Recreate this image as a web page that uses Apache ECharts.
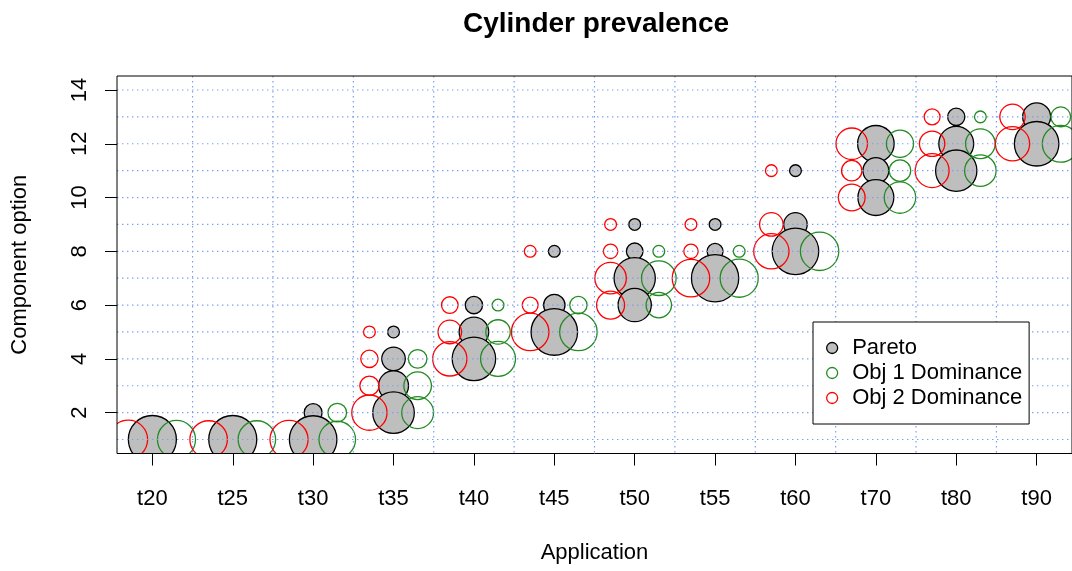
<!DOCTYPE html>
<html>
<head>
<meta charset="utf-8">
<script src="https://cdn.jsdelivr.net/npm/echarts@6/dist/echarts.min.js"></script>
<style>
  html, body { margin: 0; padding: 0; background: #fff; }
  #chart { width: 1072px; height: 571px; }
</style>
</head>
<body>
<div id="chart"></div>
<script>
// Applications on the x axis, component options on the y axis
const applications = ['t20', 't25', 't30', 't35', 't40', 't45', 't50', 't55', 't60', 't70', 't80', 't90'];
const optionTicks = [2, 4, 6, 8, 10, 12, 14];
const appTicks = [1, 2, 3, 4, 5, 6, 7, 8, 9, 10, 11, 12];

// Dotted reference grid
const gridLinesX = [1.5, 2.5, 3.5, 4.5, 5.5, 6.5, 7.5, 8.5, 9.5, 10.5, 11.5];
const gridLinesY = [1, 2, 3, 4, 5, 6, 7, 8, 9, 10, 11, 12, 13, 14];

// [application, component option, prevalence %]
const paretoShare = [
  ['t20', 1, 100],
  ['t25', 1, 100],
  ['t30', 2, 14], ['t30', 1, 98],
  ['t35', 5, 6], ['t35', 4, 24], ['t35', 3, 39], ['t35', 2, 75],
  ['t40', 6, 13], ['t40', 5, 38], ['t40', 4, 82],
  ['t45', 8, 6], ['t45', 6, 20], ['t45', 5, 94],
  ['t50', 9, 6], ['t50', 8, 12], ['t50', 7, 74], ['t50', 6, 48],
  ['t55', 9, 6], ['t55', 8, 11], ['t55', 7, 97],
  ['t60', 11, 6], ['t60', 9, 24], ['t60', 8, 94],
  ['t70', 12, 58], ['t70', 11, 29], ['t70', 10, 56],
  ['t80', 13, 13], ['t80', 12, 53], ['t80', 11, 74],
  ['t90', 13, 34], ['t90', 12, 86]
];

const obj1Share = [
  ['t20', 1, 63],
  ['t25', 1, 61],
  ['t30', 2, 15], ['t30', 1, 58],
  ['t35', 4, 15], ['t35', 3, 33], ['t35', 2, 44],
  ['t40', 6, 6], ['t40', 5, 26], ['t40', 4, 53],
  ['t45', 6, 13], ['t45', 5, 61],
  ['t50', 8, 6], ['t50', 7, 52], ['t50', 6, 28],
  ['t55', 8, 6], ['t55', 7, 63],
  ['t60', 8, 64],
  ['t70', 12, 32], ['t70', 11, 20], ['t70', 10, 43],
  ['t80', 13, 6], ['t80', 12, 38], ['t80', 11, 43],
  ['t90', 13, 17], ['t90', 12, 59]
];

const obj2Share = [
  ['t20', 1, 65],
  ['t25', 1, 61],
  ['t30', 1, 63],
  ['t35', 5, 6], ['t35', 4, 13], ['t35', 3, 16], ['t35', 2, 54],
  ['t40', 6, 12], ['t40', 5, 24], ['t40', 4, 51],
  ['t45', 8, 6], ['t45', 6, 11], ['t45', 5, 61],
  ['t50', 9, 6], ['t50', 8, 9], ['t50', 7, 43], ['t50', 6, 34],
  ['t55', 9, 6], ['t55', 8, 9], ['t55', 7, 61],
  ['t60', 11, 6], ['t60', 9, 24], ['t60', 8, 54],
  ['t70', 12, 43], ['t70', 11, 18], ['t70', 10, 31],
  ['t80', 13, 11], ['t80', 12, 28], ['t80', 11, 50],
  ['t90', 13, 28], ['t90', 12, 51]
];

const FONT = '"Liberation Sans", Arial, Helvetica, sans-serif';
const R_MAX = 24;           // radius (px) of a 100 % circle
const LINE_W = 1.3;

function toRows(list) {
  return list.map(d => [applications.indexOf(d[0]) + 1, d[1], d[2]]);
}

function bubbleSeries(name, list, dx, fill, stroke) {
  return {
    type: 'custom',
    name: name,
    clip: true,
    z: 2,
    itemStyle: { color: fill === 'none' ? stroke : fill, borderColor: stroke },
    data: toRows(list),
    renderItem: function (params, api) {
      const c = api.coord([api.value(0) + dx, api.value(1)]);
      const r = R_MAX * Math.sqrt(api.value(2) / 100);
      return {
        type: 'circle',
        shape: { cx: c[0], cy: c[1], r: r },
        style: { fill: fill, stroke: stroke, lineWidth: LINE_W }
      };
    }
  };
}

const gridRows = gridLinesX.map(v => [0, v]).concat(gridLinesY.map(v => [1, v]));

const chart = echarts.init(document.getElementById('chart'), null, { renderer: 'canvas' });

chart.setOption({
  animation: false,
  backgroundColor: '#ffffff',
  textStyle: { fontFamily: FONT },
  title: {
    text: 'Cylinder prevalence',
    left: 591,
    textAlign: 'center',
    top: 5,
    textStyle: { fontFamily: FONT, fontSize: 28, fontWeight: 'bold', color: '#000' }
  },
  grid: {
    left: 117, top: 76, right: -3.5, bottom: 117.5,
    show: true, borderColor: '#000', borderWidth: 1, backgroundColor: 'transparent',
    z: 5
  },
  legend: {
    orient: 'vertical',
    left: 813, top: 322,
    z: 10,
    selectedMode: false,
    icon: 'circle',
    itemWidth: 30, itemHeight: 11, itemGap: 3,
    padding: [15, 7, 15, 13],
    backgroundColor: '#fff', borderColor: '#000', borderWidth: 1,
    textStyle: { fontFamily: FONT, fontSize: 22, lineHeight: 22, color: '#000' },
    data: [
      { name: 'Pareto', itemStyle: { color: '#bebebe', borderColor: '#000', borderWidth: LINE_W } },
      { name: 'Obj 1 Dominance', itemStyle: { color: '#fff', borderColor: '#228b22', borderWidth: LINE_W } },
      { name: 'Obj 2 Dominance', itemStyle: { color: '#fff', borderColor: '#ff0000', borderWidth: LINE_W } }
    ]
  },
  xAxis: {
    type: 'value', min: 0.56, max: 12.44,
    name: 'Application', nameLocation: 'middle', nameGap: 88,
    nameTextStyle: { fontFamily: FONT, fontSize: 22, color: '#000' },
    axisLine: { show: false },
    splitLine: { show: false },
    axisTick: { show: true, customValues: appTicks, length: 12, lineStyle: { color: '#000', width: 1 } },
    axisLabel: {
      customValues: appTicks, margin: 34,
      fontFamily: FONT, fontSize: 22, color: '#000',
      formatter: v => applications[Math.round(v) - 1] || ''
    }
  },
  yAxis: {
    type: 'value', min: 0.48, max: 14.52,
    name: 'Component option', nameLocation: 'middle', nameGap: 86,
    nameTextStyle: { fontFamily: FONT, fontSize: 22, color: '#000' },
    axisLine: { show: false },
    splitLine: { show: false },
    axisTick: { show: true, customValues: optionTicks, length: 12, lineStyle: { color: '#000', width: 1 } },
    axisLabel: {
      customValues: optionTicks, rotate: 90, margin: 26,
      fontFamily: FONT, fontSize: 22, color: '#000'
    }
  },
  series: [
    bubbleSeries('Pareto', paretoShare, 0, '#bebebe', '#000000'),
    bubbleSeries('Obj 1 Dominance', obj1Share, 0.3, 'none', '#228b22'),
    bubbleSeries('Obj 2 Dominance', obj2Share, -0.3, 'none', '#ff0000'),
    {
      type: 'custom',
      name: 'grid',
      z: 3,
      silent: true,
      clip: true,
      data: gridRows,
      renderItem: function (params, api) {
        const cs = params.coordSys;
        const v = api.value(1);
        let shape;
        if (api.value(0) === 0) {
          const x = api.coord([v, 1])[0];
          shape = { x1: x, y1: cs.y, x2: x, y2: cs.y + cs.height };
        } else {
          const y = api.coord([1, v])[1];
          shape = { x1: cs.x, y1: y, x2: cs.x + cs.width, y2: y };
        }
        return {
          type: 'line',
          shape: shape,
          style: { stroke: '#7b9ff0', lineWidth: 1.2, lineDash: [1.4, 3.6] }
        };
      }
    }
  ]
});
</script>
</body>
</html>
